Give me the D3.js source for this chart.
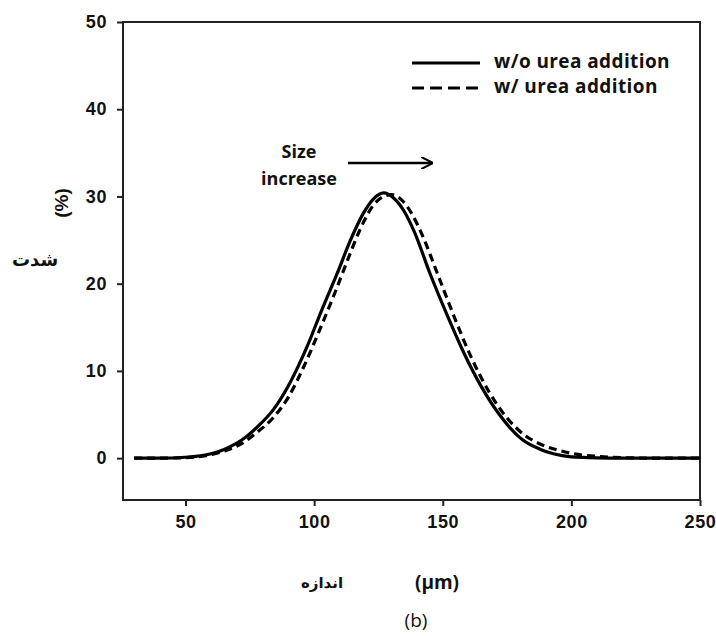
<!DOCTYPE html>
<html>
<head>
<meta charset="utf-8">
<script src="https://cdn.jsdelivr.net/npm/d3@7"></script>
<style>
  body { margin: 0; background: #fff; }
  svg text { font-family: "Liberation Sans", Arial, sans-serif; font-weight: bold; fill: #111; }
</style>
</head>
<body>
<div id="chart"></div>
<script>
// size (um) vs intensity (%)
const sizeNoUrea = [30, 40, 50, 60, 65, 72, 78, 84, 90, 97, 103, 109, 114, 119, 123, 127, 131, 135, 139, 145, 152, 158, 165, 172, 181, 188, 193, 200, 210, 220, 250];
const valNoUrea  = [0, 0, 0.1, 0.5, 1.0, 2.1, 3.6, 5.5, 8.3, 12.6, 17.0, 21.2, 24.9, 28.0, 29.7, 30.4, 29.8, 28.3, 25.9, 21.2, 16.2, 12.2, 8.2, 5.0, 2.1, 1.0, 0.5, 0.15, 0.03, 0, 0];

const sizeUrea = [30, 40, 50, 60, 66, 72, 78, 84, 90, 96, 102, 108, 113, 118, 123, 127, 130, 134, 138, 142, 148, 155, 161, 168, 175, 182, 188, 195, 201, 210, 220, 235, 250];
const valUrea  = [0, 0, 0.05, 0.4, 0.9, 1.7, 3.0, 4.6, 7.0, 10.5, 14.6, 18.9, 22.7, 26.3, 29.0, 30.0, 30.2, 29.6, 28.0, 25.6, 21.1, 15.8, 11.6, 7.6, 4.6, 2.6, 1.6, 0.9, 0.5, 0.2, 0.05, 0, 0];

const xTicks = [50, 100, 150, 200, 250];
const yTicks = [0, 10, 20, 30, 40, 50];
const legendLabels = ['w/o urea addition', 'w/ urea addition'];

const width = 716, height = 636;
const plot = { left: 123, right: 700, top: 22, bottom: 500 };

const svg = d3.select('#chart').append('svg')
  .attr('width', width).attr('height', height);

const xScale = d3.scaleLinear().domain([25.7, 250]).range([plot.left, plot.right]);
const yScale = d3.scaleLinear().domain([-4.8, 50]).range([plot.bottom, plot.top]);

// frame
svg.append('rect')
  .attr('x', plot.left).attr('y', plot.top)
  .attr('width', plot.right - plot.left).attr('height', plot.bottom - plot.top)
  .attr('fill', 'none').attr('stroke', '#222').attr('stroke-width', 2);

// axes
const xAxis = svg.append('g')
  .attr('transform', `translate(0, ${plot.bottom})`)
  .call(d3.axisBottom(xScale).tickValues(xTicks).tickSize(6).tickPadding(9));
const yAxis = svg.append('g')
  .attr('transform', `translate(${plot.left}, 0)`)
  .call(d3.axisLeft(yScale).tickValues(yTicks).tickSize(6).tickPadding(10));

[xAxis, yAxis].forEach(g => {
  g.select('.domain').remove();
  g.selectAll('.tick line').attr('stroke', '#222').attr('stroke-width', 2);
  g.selectAll('.tick text').style('font-size', '18px').style('font-family', '"Liberation Sans", Arial, sans-serif')
    .style('font-weight', 'bold').style('letter-spacing', '0.6px').attr('fill', '#1a1a1a');
});

// curves
const line = d3.line().curve(d3.curveMonotoneX)
  .x(d => xScale(d[0])).y(d => yScale(d[1]));

svg.append('path')
  .datum(sizeNoUrea.map((s, i) => [s, valNoUrea[i]]))
  .attr('d', line).attr('fill', 'none').attr('stroke', '#000').attr('stroke-width', 3.2);

svg.append('path')
  .datum(sizeUrea.map((s, i) => [s, valUrea[i]]))
  .attr('d', line).attr('fill', 'none').attr('stroke', '#000').attr('stroke-width', 3.2)
  .attr('stroke-dasharray', '8,5');

// legend
const legend = svg.append('g').attr('transform', 'translate(412, 63)');
legendLabels.forEach((lab, i) => {
  const row = legend.append('g').attr('transform', `translate(0, ${i * 25})`);
  row.append('line').attr('x1', 0).attr('x2', 68).attr('y1', 0).attr('y2', 0)
    .attr('stroke', '#000').attr('stroke-width', 3.2)
    .attr('stroke-dasharray', i === 1 ? '12,6' : null);
  row.append('text').attr('x', 82).attr('y', 5)
    .style('font-family', '"Open Sans", sans-serif').style('font-size', '19px')
    .style('letter-spacing', '0.4px')
    .text(lab);
});

// annotation
const note = svg.append('text').attr('text-anchor', 'middle')
  .style('font-family', '"Open Sans", sans-serif').style('font-size', '18px');
note.append('tspan').attr('x', 299).attr('y', 158).text('Size');
note.append('tspan').attr('x', 299).attr('y', 185).text('increase');

svg.append('defs').append('marker')
  .attr('id', 'arrow').attr('viewBox', '0 0 10 10').attr('refX', 9).attr('refY', 5)
  .attr('markerWidth', 5).attr('markerHeight', 5).attr('orient', 'auto')
  .append('path').attr('d', 'M0,0 L10,5 L0,10').attr('fill', 'none').attr('stroke', '#000').attr('stroke-width', 1.6);
svg.append('line').attr('x1', 348).attr('x2', 432).attr('y1', 163).attr('y2', 163)
  .attr('stroke', '#000').attr('stroke-width', 2.5).attr('marker-end', 'url(#arrow)');

// axis titles
svg.append('text').attr('transform', 'translate(68, 203) rotate(-90)')
  .attr('text-anchor', 'middle').style('font-size', '19px').text('(%)');
svg.append('text').attr('x', 35).attr('y', 266).attr('text-anchor', 'middle')
  .style('font-family', '"DejaVu Sans", sans-serif').style('font-size', '18px').text('شدت');

svg.append('text').attr('x', 322).attr('y', 588).attr('text-anchor', 'middle')
  .style('font-family', '"DejaVu Sans", sans-serif').style('font-size', '15px').text('اندازه');
svg.append('text').attr('x', 437).attr('y', 589).attr('text-anchor', 'middle')
  .style('font-family', '"Open Sans", sans-serif').style('font-size', '19px').text('(μm)');
svg.append('text').attr('x', 416).attr('y', 627).attr('text-anchor', 'middle')
  .style('font-family', '"Open Sans", sans-serif').style('font-weight', 'normal').style('font-size', '19px').text('(b)');
</script>
</body>
</html>
